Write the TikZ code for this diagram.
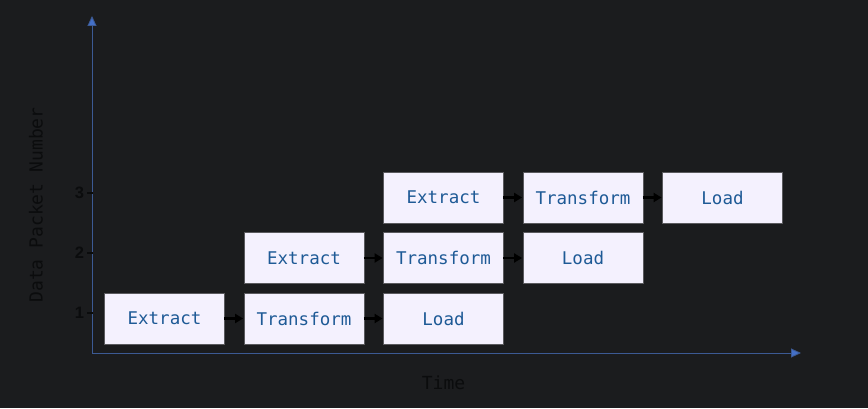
\documentclass[tikz,border=0pt]{standalone}
\usepackage{fontspec}
\setmainfont{Liberation Sans}
\setmonofont{DejaVu Sans Mono}
\usetikzlibrary{shapes,arrows.meta}
\definecolor{bgdark}{HTML}{1B1C1E}
\definecolor{axisblue}{HTML}{3C5A94}
\definecolor{tipblue}{HTML}{4470C8}
\definecolor{boxfill}{HTML}{F4F1FE}
\definecolor{boxline}{HTML}{5A5A5E}
\definecolor{stagetext}{HTML}{1E5A96}
\definecolor{labeldark}{HTML}{0B0C0D}

\begin{document}
\begin{tikzpicture}[x=1pt,y=1pt,
        stage/.style={rectangle,draw=boxline,line width=0.8pt,fill=boxfill,
            minimum width=120pt,minimum height=51pt,inner sep=0pt,
            text=stagetext,font=\ttfamily\fontsize{17.5}{20}\selectfont},
        flow/.style={-{Triangle[length=8pt,width=9pt]},line width=2.2pt,black,shorten <=-0.5pt,shorten >=0.5pt},
        axis/.style={axisblue,line width=0.9pt,-{Triangle[length=10pt,width=9pt,fill=tipblue]}}]
        % 背景和边界
        \fill[bgdark] (0,0) rectangle (868,408);
        \useasboundingbox (0,0) rectangle (868,408);

        % 坐标轴
        \coordinate (o) at (92,55);
        \coordinate (ytop) at (92,392);
        \coordinate (xend) at (801,55);
        \draw[axis] (o) -- (ytop);
        \draw[axis] (o) -- (xend);

        % 刻度和刻度标签
        \foreach \n/\y in {1/95,2/155,3/215} {
            \draw[labeldark,line width=1.5pt] (87,\y) -- (93,\y);
            \node[text=labeldark,font=\bfseries\fontsize{16.5}{18}\selectfont] (tick\n) at (79.5,\y) {\n};
        }

        % 轴标签
        \node[text=labeldark,font=\ttfamily\fontsize{18}{21}\selectfont,rotate=90] (ylabel) at (36,203) {Data Packet Number};
        \node[text=labeldark,font=\ttfamily\fontsize{18}{21}\selectfont] (xlabel) at (443.5,25) {Time};

        % 数据包 1
        \node[stage] (e1) at (164.5,89.5) {Extract};
        \node[stage] (t1) at (304,89.5) {Transform};
        \node[stage] (l1) at (443.5,89.5) {Load};

        % 数据包 2
        \node[stage] (e2) at (304,150) {Extract};
        \node[stage] (t2) at (443.5,150) {Transform};
        \node[stage] (l2) at (583,150) {Load};

        % 数据包 3
        \node[stage] (e3) at (443.5,210.5) {Extract};
        \node[stage] (t3) at (583,210.5) {Transform};
        \node[stage] (l3) at (722.5,210.5) {Load};

        % 流程箭头
        \foreach \k in {1,2,3} {
            \draw[flow] (e\k) -- (t\k);
            \draw[flow] (t\k) -- (l\k);
        }
    \end{tikzpicture}
\end{document}
